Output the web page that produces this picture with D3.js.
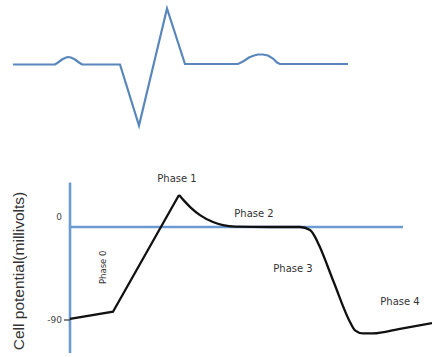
<!DOCTYPE html>
<html><head><meta charset="utf-8">
<script src="https://cdn.jsdelivr.net/npm/d3@7"></script>
<style>html,body{margin:0;padding:0;background:#fff;}svg{display:block;}</style>
</head><body>
<script>
// ECG trace (top): time units and amplitude units
const ecgTime = [0, 42, 45, 49, 53, 55, 58, 62, 66, 69, 72, 107, 126, 154, 172, 225, 230, 236, 241, 245, 250, 255, 260, 264, 267, 335];
const ecgAmp  = [0, 0, 2, 5, 7, 7.5, 7, 5, 2, 0, 0, 0, -61, 56, 0.5, 0.5, 3, 7, 9, 10, 10, 9, 6, 2, 0.5, 0.5];

// Action potential (bottom): time (ms-like units) and cell potential (mV)
const apTimeUp = [0, 43, 109];
const apVoltUp = [-89, -82, 31];
const apTimeDown = [109, 114, 121, 130, 143, 153, 165, 200, 230, 240, 245, 249, 264, 279, 285, 293, 303, 330, 362];
const apVoltDown = [31, 25.5, 18.5, 11.5, 4.8, 1.8, 0.4, 0, 0, -3, -9.5, -17.5, -54, -90, -100, -103, -103, -98.5, -93];

const yTicks = [0, -90];
const phaseLabels = [
  {name: "Phase 1", t: 107, v: 46, rot: 0},
  {name: "Phase 2", t: 184, v: 13, rot: 0},
  {name: "Phase 3", t: 223, v: -41, rot: 0},
  {name: "Phase 4", t: 330, v: -73, rot: 0},
  {name: "Phase 0", t: 33, v: -39, rot: -90}
];
const yLabel = "Cell potential(millivolts)";

const W = 432, H = 357;
const svg = d3.select("body").append("svg").attr("width", W).attr("height", H);

// ECG scales
const ex = d3.scaleLinear().domain([0, 335]).range([13, 348]);
const ey = d3.scaleLinear().domain([0, 56]).range([64.5, 8.5]);
const ecgLine = d3.line().x((d, i) => ex(ecgTime[i])).y((d, i) => ey(ecgAmp[i]));
svg.append("path").datum(ecgTime).attr("d", ecgLine)
  .attr("fill", "none").attr("stroke", "#5a87bb").attr("stroke-width", 2.2)
  .attr("stroke-linejoin", "miter");

// AP scales
const x = d3.scaleLinear().domain([0, 362]).range([70, 432]);
const y = d3.scaleLinear().domain([0, -90]).range([227, 320]);

// axes
svg.append("line").attr("x1", x(0)).attr("x2", x(0)).attr("y1", y(43)).attr("y2", y(-122))
  .attr("stroke", "#6b9bd0").attr("stroke-width", 2.6);
svg.append("line").attr("x1", x(0)).attr("x2", x(333)).attr("y1", y(0)).attr("y2", y(0))
  .attr("stroke", "#6b9bd0").attr("stroke-width", 2.6);
svg.append("line").attr("x1", x(0) - 6).attr("x2", x(0)).attr("y1", y(-90)).attr("y2", y(-90))
  .attr("stroke", "#333").attr("stroke-width", 1.2);

svg.selectAll("text.tick").data(yTicks).enter().append("text")
  .attr("class", "tick")
  .attr("x", x(0) - 8)
  .attr("y", d => y(d) + (d === 0 ? -7 : 3))
  .attr("text-anchor", "end")
  .attr("font-family", "DejaVu Sans, sans-serif")
  .attr("font-size", 9).attr("fill", "#444")
  .text(d => d);

svg.append("text")
  .attr("transform", `translate(24,${271}) rotate(-90)`)
  .attr("text-anchor", "middle")
  .attr("font-family", "Liberation Sans Narrow, Liberation Sans, Arial, sans-serif")
  .attr("font-size", 15.5).attr("fill", "#333")
  .text(yLabel);

// AP curve
const lineUp = d3.line().x((d, i) => x(apTimeUp[i])).y((d, i) => y(apVoltUp[i]));
svg.append("path").datum(apTimeUp).attr("d", lineUp)
  .attr("fill", "none").attr("stroke", "#111").attr("stroke-width", 2.3)
  .attr("stroke-linejoin", "miter");
const lineDown = d3.line().x((d, i) => x(apTimeDown[i])).y((d, i) => y(apVoltDown[i]))
  .curve(d3.curveMonotoneX);
svg.append("path").datum(apTimeDown).attr("d", lineDown)
  .attr("fill", "none").attr("stroke", "#111").attr("stroke-width", 2.3);

// phase labels
svg.selectAll("text.phase").data(phaseLabels).enter().append("text")
  .attr("class", "phase")
  .attr("transform", d => `translate(${x(d.t)},${y(d.v)}) rotate(${d.rot})`)
  .attr("text-anchor", "middle")
  .attr("dominant-baseline", "middle")
  .attr("font-family", "DejaVu Sans, sans-serif")
  .attr("font-size", d => d.rot ? 8.5 : 10)
  .attr("fill", "#333")
  .text(d => d.name);
</script>
</body></html>
